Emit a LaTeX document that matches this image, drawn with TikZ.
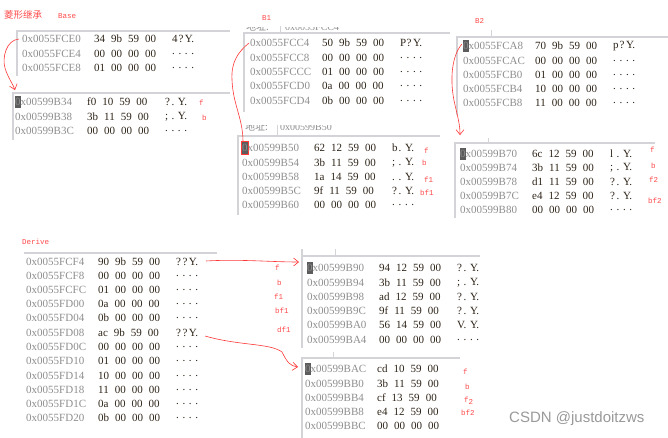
\documentclass[tikz,border=0pt]{standalone}
\usepackage{fontspec}
\setmainfont{Liberation Serif}
\newfontfamily\cjkf{Noto Sans CJK SC}
\newfontfamily\monof{Liberation Mono}
\newfontfamily\sansf{Liberation Sans}
\usetikzlibrary{arrows.meta}
\definecolor{adrc}{HTML}{8E8E8E}
\definecolor{bytc}{HTML}{2E2418}
\definecolor{redc}{HTML}{FF4A4A}
\definecolor{redl}{HTML}{FF3838}
\definecolor{frc}{HTML}{D4D4D8}
\definecolor{curc}{HTML}{5C5C5C}
\definecolor{wmc}{HTML}{9A9A9A}
\def\spc#1{\ifx#1\relax\else\makebox[6.4pt][l]{#1}\expandafter\spc\fi}
\newcommand\drow[9]{%
  \node[adr] (#1) at (#2,#3) {#4};
  \node[byt] (#1b) at ({#2+72},#3) {#5\hspace{6pt}#6\hspace{6pt}#7\hspace{6pt}#8};
  \node[byt] (#1a) at ({#2+150},#3) {\spc#9\relax};
}
\begin{document}
\begin{tikzpicture}[x=1pt,y=-1pt,
  adr/.style={anchor=west,inner sep=0pt,text=adrc,font=\fontsize{11}{12}\selectfont},
  byt/.style={anchor=west,inner sep=0pt,text=bytc,font=\fontsize{11}{12}\selectfont},
  lbl/.style={anchor=west,inner sep=0pt,text=redc,font=\monof\fontsize{7.5}{9}\selectfont},
  hdr/.style={anchor=west,inner sep=0pt,text=adrc,font=\fontsize{10}{12}\selectfont},
  frame/.style={draw=frc,line width=1.6pt},
  redln/.style={draw=redl,line width=0.6pt},
  redarr/.style={draw=redl,line width=0.6pt,-{Straight Barb[length=5pt,width=8pt]}},
  cursor/.style={fill=curc,draw=none}]
\useasboundingbox[fill=white] (0,0) rectangle (668,438);

% ---------- titles ----------
\node[anchor=west,inner sep=0pt,text=redc,font=\cjkf\fontsize{9.5}{11}\selectfont] (title) at (4,15) {菱形继承};
\node[lbl] (tbase) at (58,16) {Base};
\node[lbl] (tb1) at (262,18) {B1};
\node[lbl] (tb2) at (475,21) {B2};
\node[lbl] (tder) at (22,242) {Derive};

% ---------- Base (top) ----------
\draw[frame] (17,76) -- (17,31) -- (230,31);
\drow{bt1}{22}{39}{0x0055FCE0}{34}{9b}{59}{00}{4?Y.}
\drow{bt2}{22}{54}{0x0055FCE4}{00}{00}{00}{00}{....}
\drow{bt3}{22}{68}{0x0055FCE8}{01}{00}{00}{00}{....}

% ---------- Base vtable ----------
\draw[frame] (13,140) -- (13,93) -- (230,93);
\fill[cursor] (15,96) rectangle (21,108);
\drow{bb1}{15}{102}{0x00599B34}{f0}{10}{59}{00}{?.Y.}
\drow{bb2}{15}{117}{0x00599B38}{3b}{11}{59}{00}{;.Y.}
\drow{bb3}{15}{131}{0x00599B3C}{00}{00}{00}{00}{....}
\node[lbl] (lbb1) at (199,103) {f};
\node[lbl] (lbb2) at (202,118) {b};

% ---------- B1 (top) ----------
\begin{scope}
  \clip (244,27.5) rectangle (450,32);
  \node[hdr] (h1) at (246,27) {\cjkf 地址:};
  \node[hdr] (h1b) at (285,27) {0x0055FCC4};
\end{scope}
\draw[draw=frc,line width=0.8pt] (280,26) -- (280,33);
\draw[frame] (244,112) -- (244,33) -- (450,33);
\drow{c1}{250}{43}{0x0055FCC4}{50}{9b}{59}{00}{P?Y.}
\drow{c2}{250}{58}{0x0055FCC8}{00}{00}{00}{00}{....}
\drow{c3}{250}{72}{0x0055FCCC}{01}{00}{00}{00}{....}
\drow{c4}{250}{86}{0x0055FCD0}{0a}{00}{00}{00}{....}
\drow{c5}{250}{101}{0x0055FCD4}{0b}{00}{00}{00}{....}

% ---------- B1 vtable ----------
\begin{scope}
  \clip (238,126) rectangle (440,134);
  \node[hdr] (h2) at (245,127) {\cjkf 地址:};
  \node[hdr] (h2b) at (280,127) {0x00599B50};
\end{scope}
\draw[draw=frc,line width=0.8pt] (277,125) -- (277,136);
\draw[frame] (238,215) -- (238,136) -- (440,136);
\fill[cursor] (242,142) rectangle (248,154);
\draw[draw=redl,line width=1.2pt] (241.5,141.5) rectangle (248.5,154.5);
\drow{d1}{242}{148}{0x00599B50}{62}{12}{59}{00}{b.Y.}
\drow{d2}{242}{163}{0x00599B54}{3b}{11}{59}{00}{;.Y.}
\drow{d3}{242}{177}{0x00599B58}{1a}{14}{59}{00}{..Y.}
\drow{d4}{242}{191}{0x00599B5C}{9f}{11}{59}{00}{?.Y.}
\drow{d5}{242}{205}{0x00599B60}{00}{00}{00}{00}{....}
\node[lbl] (ld1) at (424,151) {f};
\node[lbl] (ld2) at (422,163) {b};
\node[lbl] (ld3) at (424,180) {f1};
\node[lbl] (ld4) at (420,193) {bf1};

% ---------- B2 (top) ----------
\draw[draw=frc,line width=0.8pt] (491,30) -- (491,37);
\draw[frame] (457,115) -- (457,37) -- (668,37);
\fill[cursor] (463,40) rectangle (469,52);
\drow{e1}{463}{46}{0x0055FCA8}{70}{9b}{59}{00}{p?Y.}
\drow{e2}{463}{61}{0x0055FCAC}{00}{00}{00}{00}{....}
\drow{e3}{463}{75}{0x0055FCB0}{01}{00}{00}{00}{....}
\drow{e4}{463}{89}{0x0055FCB4}{10}{00}{00}{00}{....}
\drow{e5}{463}{103}{0x0055FCB8}{11}{00}{00}{00}{....}

% ---------- B2 vtable ----------
\draw[draw=frc,line width=0.8pt] (488,138) -- (488,143);
\draw[frame] (455,218) -- (455,143) -- (655,143);
\fill[cursor] (460,148) rectangle (466,160);
\drow{g1}{460}{154}{0x00599B70}{6c}{12}{59}{00}{l.Y.}
\drow{g2}{460}{168}{0x00599B74}{3b}{11}{59}{00}{;.Y.}
\drow{g3}{460}{182}{0x00599B78}{d1}{11}{59}{00}{?.Y.}
\drow{g4}{460}{196}{0x00599B7C}{e4}{12}{59}{00}{?.Y.}
\drow{g5}{460}{210}{0x00599B80}{00}{00}{00}{00}{....}
\node[lbl] (lg1) at (650,150) {f};
\node[lbl] (lg2) at (651,166) {b};
\node[lbl] (lg3) at (649,180) {f2};
\node[lbl] (lg4) at (648,201) {bf2};

% ---------- Derive ----------
\draw[frame] (24,253) -- (217,253);
\drow{p1}{26}{262}{0x0055FCF4}{90}{9b}{59}{00}{??Y.}
\drow{p2}{26}{276}{0x0055FCF8}{00}{00}{00}{00}{....}
\drow{p3}{26}{290}{0x0055FCFC}{01}{00}{00}{00}{....}
\drow{p4}{26}{304}{0x0055FD00}{0a}{00}{00}{00}{....}
\drow{p5}{26}{318}{0x0055FD04}{0b}{00}{00}{00}{....}
\drow{p6}{26}{333}{0x0055FD08}{ac}{9b}{59}{00}{??Y.}
\drow{p7}{26}{347}{0x0055FD0C}{00}{00}{00}{00}{....}
\drow{p8}{26}{361}{0x0055FD10}{01}{00}{00}{00}{....}
\drow{p9}{26}{376}{0x0055FD14}{10}{00}{00}{00}{....}
\drow{p10}{26}{390}{0x0055FD18}{11}{00}{00}{00}{....}
\drow{p11}{26}{404}{0x0055FD1C}{0a}{00}{00}{00}{....}
\drow{p12}{26}{418}{0x0055FD20}{0b}{00}{00}{00}{....}
\node[lbl] (lp1) at (275,268) {f};
\node[lbl] (lp2) at (277,283) {b};
\node[lbl] (lp3) at (274,297) {f1};
\node[lbl] (lp4) at (275,311) {bf1};
\node[lbl] (lp5) at (277,330) {df1};

% ---------- Derive B1 vtable ----------
\draw[draw=frc,line width=0.8pt] (335,249) -- (335,256);
\draw[frame] (302,348) -- (302,249);
\draw[frame] (302,256) -- (480,256);
\fill[cursor] (307,262) rectangle (313,274);
\drow{r1}{307}{268}{0x00599B90}{94}{12}{59}{00}{?.Y.}
\drow{r2}{307}{283}{0x00599B94}{3b}{11}{59}{00}{;.Y.}
\drow{r3}{307}{297}{0x00599B98}{ad}{12}{59}{00}{?.Y.}
\drow{r4}{307}{311}{0x00599B9C}{9f}{11}{59}{00}{?.Y.}
\drow{r5}{307}{325}{0x00599BA0}{56}{14}{59}{00}{V.Y.}
\drow{r6}{307}{340}{0x00599BA4}{00}{00}{00}{00}{....}

% ---------- Derive B2 vtable ----------
\draw[draw=frc,line width=0.8pt] (333,352) -- (333,358);
\draw[frame] (302,438) -- (302,358) -- (460,358);
\fill[cursor] (305,363) rectangle (311,375);
\drow{s1}{305}{369}{0x00599BAC}{cd}{10}{59}{00}{}
\drow{s2}{305}{384}{0x00599BB0}{3b}{11}{59}{00}{}
\drow{s3}{305}{398}{0x00599BB4}{cf}{13}{59}{00}{}
\drow{s4}{305}{412}{0x00599BB8}{e4}{12}{59}{00}{}
\drow{s5}{305}{426}{0x00599BBC}{00}{00}{00}{00}{}
\node[lbl] (ls1) at (463,372) {f};
\node[lbl] (ls2) at (465,387) {b};
\node[lbl] (ls3) at (464,401) {f\raisebox{-1.5pt}{2}};
\node[lbl] (ls4) at (461,413) {bf2};

% ---------- watermark ----------
\node[anchor=west,inner sep=0pt,text=wmc,font=\sansf\fontsize{15}{17}\selectfont] (wm) at (509,419) {CSDN @justdoitzws};

% ---------- connectors ----------
\draw[redarr] ([xshift=-3pt]bt1.west) .. controls (6,40) and (2,58) .. (5,68)
  .. controls (8,78) and (13,84) .. ([yshift=8pt]bb1.north west);
\draw[redln] ([xshift=-1pt]c1.west) .. controls (238,52) and (231,62) .. (232,80)
  .. controls (233,105) and (243,118) .. ([xshift=1pt,yshift=2pt]d1.north west);
\draw[redarr] ([xshift=-1pt,yshift=2pt]e1.west) .. controls (452,55) and (449,80) .. (455,105)
  .. controls (458,118) and (460,125) .. ([yshift=15pt]g1.north west);
\draw[redarr] ([xshift=4pt,yshift=1pt]p1a.east) .. controls (240,259) and (270,262) .. ([xshift=-8pt,yshift=6pt]r1.west);
\draw[redarr] ([xshift=3pt,yshift=-3pt]p6a.east) .. controls (240,346) and (270,343) .. (282,352)
  .. controls (287,362) and (290,366) .. ([xshift=-7pt,yshift=2pt]s1.west);
\end{tikzpicture}
\end{document}
